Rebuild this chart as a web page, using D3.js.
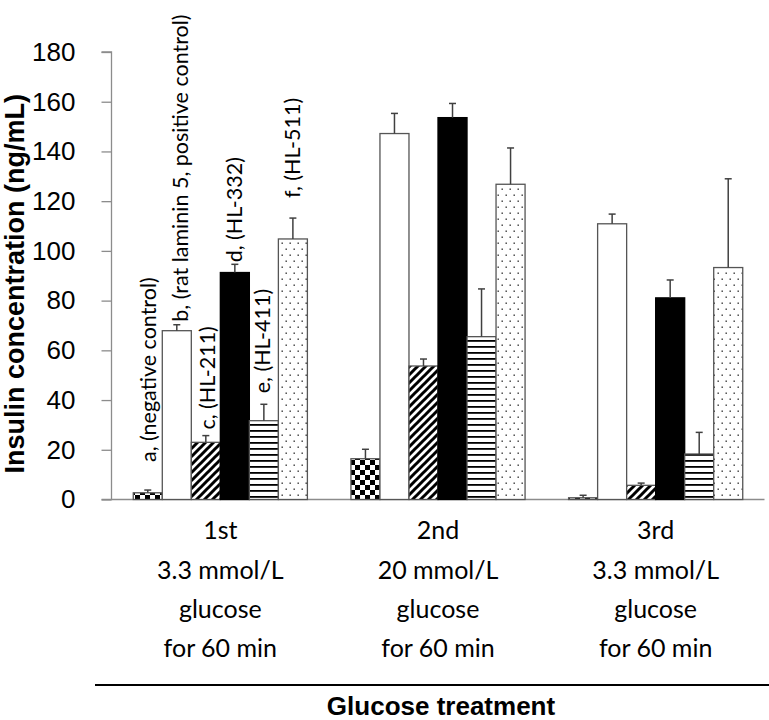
<!DOCTYPE html>
<html>
<head>
<meta charset="utf-8">
<script src="https://cdn.jsdelivr.net/npm/d3@7"></script>
<style>
  html, body { margin: 0; padding: 0; background: #fff; }
  svg { display: block; }
</style>
</head>
<body>
<svg id="chart" width="769" height="720"></svg>
<script>
// ---------------- data ----------------
const groups = ["1st", "2nd", "3rd"];
const groupLabelLines = [
  ["1st", "3.3 mmol/L", "glucose", "for 60 min"],
  ["2nd", "20 mmol/L", "glucose", "for 60 min"],
  ["3rd", "3.3 mmol/L", "glucose", "for 60 min"]
];
const seriesKeys = ["a", "b", "c", "d", "e", "f"];
const seriesLabels = [
  "a, (negative control)",
  "b, (rat laminin 5, positive control)",
  "c, (HL-211)",
  "d, (HL-332)",
  "e, (HL-411)",
  "f, (HL-511)"
];
// mean insulin concentration (ng/mL) per glucose treatment
const meanA = [2.7, 16.4, 0.7];
const meanB = [67.9, 147.2, 110.9];
const meanC = [23.0, 53.7, 5.7];
const meanD = [91.3, 153.6, 81.1];
const meanE = [31.7, 65.5, 18.3];
const meanF = [104.8, 126.8, 93.3];
// upper error (SD)
const errA = [1.1, 3.8, 1.0];
const errB = [2.4, 8.1, 3.9];
const errC = [2.7, 2.8, 0.9];
const errD = [3.3, 5.7, 7.2];
const errE = [6.6, 19.2, 8.7];
const errF = [8.4, 14.6, 35.7];
const yTicks = [0, 20, 40, 60, 80, 100, 120, 140, 160, 180];

const means = [meanA, meanB, meanC, meanD, meanE, meanF];
const errs = [errA, errB, errC, errD, errE, errF];

// ---------------- layout ----------------
const svg = d3.select("#chart");
const W = 769, H = 720;
const axisX = 111.5, baseY = 499.5, topY = 52;
const rightX = 764.5;

svg.append("rect").attr("width", W).attr("height", H).attr("fill", "#fff");

const y = d3.scaleLinear().domain([0, 180]).range([baseY, topY]);
const x0 = d3.scaleBand().domain(groups).range([axisX, rightX]).paddingInner(0.2).paddingOuter(0.1);
const x1 = d3.scaleBand().domain(seriesKeys).range([0, x0.bandwidth()]).padding(0);

// ---------------- patterns ----------------
const defs = svg.append("defs");
// checkerboard
const pA = defs.append("pattern").attr("id", "patA").attr("patternUnits", "userSpaceOnUse")
  .attr("width", 10).attr("height", 10);
pA.append("rect").attr("width", 10).attr("height", 10).attr("fill", "#fff");
pA.append("rect").attr("width", 5).attr("height", 5).attr("fill", "#000");
pA.append("rect").attr("x", 5).attr("y", 5).attr("width", 5).attr("height", 5).attr("fill", "#000");
// wide upward diagonal
const pC = defs.append("pattern").attr("id", "patC").attr("patternUnits", "userSpaceOnUse")
  .attr("width", 8).attr("height", 8);
pC.append("rect").attr("width", 8).attr("height", 8).attr("fill", "#fff");
pC.append("path").attr("d", "M-2,10 L10,-2 M-2,2 L2,-2 M6,10 L10,6").attr("stroke", "#000").attr("stroke-width", 3);
// horizontal lines
const pE = defs.append("pattern").attr("id", "patE").attr("patternUnits", "userSpaceOnUse")
  .attr("width", 10).attr("height", 6);
pE.append("rect").attr("width", 10).attr("height", 6).attr("fill", "#fff");
pE.append("rect").attr("y", 4).attr("width", 10).attr("height", 1.8).attr("fill", "#000");
// dots
const pF = defs.append("pattern").attr("id", "patF").attr("patternUnits", "userSpaceOnUse")
  .attr("width", 8).attr("height", 12);
pF.append("rect").attr("width", 8).attr("height", 12).attr("fill", "#fff");
pF.append("rect").attr("x", 1.5).attr("y", 2.5).attr("width", 1.4).attr("height", 1.4).attr("fill", "#333");
pF.append("rect").attr("x", 5.5).attr("y", 8.5).attr("width", 1.4).attr("height", 1.4).attr("fill", "#333");

const fills = ["url(#patA)", "#fff", "url(#patC)", "#000", "url(#patE)", "url(#patF)"];

// ---------------- axes ----------------
const yAxis = d3.axisLeft(y).tickValues(yTicks).tickSize(10).tickPadding(26).tickFormat(d3.format("d"));
const gy = svg.append("g").attr("transform", `translate(${axisX},0)`).call(yAxis);
gy.select(".domain").attr("stroke", "#8c8c8c").attr("stroke-width", 1.3).attr("d", `M-10,${topY}H0V${baseY}H-10`);
gy.selectAll(".tick line").attr("stroke", "#8c8c8c").attr("stroke-width", 1.3);
gy.selectAll(".tick text").attr("fill", "#000")
  .style("font-family", "'Liberation Sans', Arial, sans-serif").style("font-size", "26px");

// x baseline
svg.append("line").attr("x1", axisX).attr("x2", rightX).attr("y1", baseY).attr("y2", baseY)
  .attr("stroke", "#8c8c8c").attr("stroke-width", 1.3);

// ---------------- bars ----------------
const rows = [];
groups.forEach((g, gi) => {
  seriesKeys.forEach((k, si) => {
    rows.push({ g, gi, k, si, v: means[si][gi], e: errs[si][gi] });
  });
});

const barG = svg.append("g");
barG.selectAll("rect.bar").data(rows).join("rect")
  .attr("class", "bar")
  .attr("x", d => x0(d.g) + x1(d.k))
  .attr("y", d => y(d.v))
  .attr("width", x1.bandwidth())
  .attr("height", d => y(0) - y(d.v))
  .attr("fill", d => fills[d.si])
  .attr("stroke", d => d.si === 3 ? "#000" : "#555")
  .attr("stroke-width", 1.3);

// error bars (upper only)
const capW = 7;
const eb = svg.append("g").attr("stroke", "#404040").attr("stroke-width", 1.5);
eb.selectAll("line.stem").data(rows).join("line")
  .attr("class", "stem")
  .attr("x1", d => x0(d.g) + x1(d.k) + x1.bandwidth() / 2)
  .attr("x2", d => x0(d.g) + x1(d.k) + x1.bandwidth() / 2)
  .attr("y1", d => y(d.v))
  .attr("y2", d => y(d.v + d.e));
eb.selectAll("line.cap").data(rows).join("line")
  .attr("class", "cap")
  .attr("x1", d => x0(d.g) + x1(d.k) + x1.bandwidth() / 2 - capW / 2)
  .attr("x2", d => x0(d.g) + x1(d.k) + x1.bandwidth() / 2 + capW / 2)
  .attr("y1", d => y(d.v + d.e))
  .attr("y2", d => y(d.v + d.e));

// ---------------- series labels (rotated, above group 1) ----------------
const labelGap = [28, 3, 6, 2, 11, 20];
const labelShift = [1, 4, 2, 0, -1, 0];
const labelFont = "Lato, 'Open Sans', sans-serif";
svg.append("g").selectAll("text").data(seriesKeys).join("text")
  .attr("transform", (k, i) => {
    const cx = x0(groups[0]) + x1(k) + x1.bandwidth() / 2 + labelShift[i];
    const cy = y(means[i][0] + errs[i][0]) - labelGap[i];
    return `translate(${cx},${cy}) rotate(-90)`;
  })
  .attr("dy", "0.35em")
  .attr("text-anchor", "start")
  .style("font-family", labelFont)
  .style("font-size", "21.5px")
  .attr("fill", "#000")
  .text((k, i) => seriesLabels[i]);

// ---------------- category labels ----------------
const lineYs = [530, 570, 609, 648];
const cat = svg.append("g");
groups.forEach((g, gi) => {
  const cx = x0(g) + x0.bandwidth() / 2;
  groupLabelLines[gi].forEach((t, li) => {
    cat.append("text")
      .attr("x", cx).attr("y", lineYs[li]).attr("dy", "0.35em")
      .attr("text-anchor", "middle")
      .style("font-family", labelFont).style("font-size", "25px")
      .attr("fill", "#000").text(t);
  });
});

// separator line and x title
svg.append("line").attr("x1", 95).attr("x2", 769).attr("y1", 685).attr("y2", 685)
  .attr("stroke", "#000").attr("stroke-width", 2.2);
svg.append("text").attr("x", x0(groups[1]) + x0.bandwidth() / 2 + 3).attr("y", 706).attr("dy", "0.35em")
  .attr("text-anchor", "middle")
  .style("font-family", "'Liberation Sans', Arial, sans-serif").style("font-weight", "bold").style("font-size", "26px")
  .text("Glucose treatment");

// y title
svg.append("text").attr("transform", `translate(15,${(topY + baseY) / 2 + 8}) rotate(-90)`)
  .attr("dy", "0.35em").attr("text-anchor", "middle")
  .style("font-family", "'Liberation Sans', Arial, sans-serif").style("font-weight", "bold").style("font-size", "27px")
  .text("Insulin concentration (ng/mL)");
</script>
</body>
</html>
